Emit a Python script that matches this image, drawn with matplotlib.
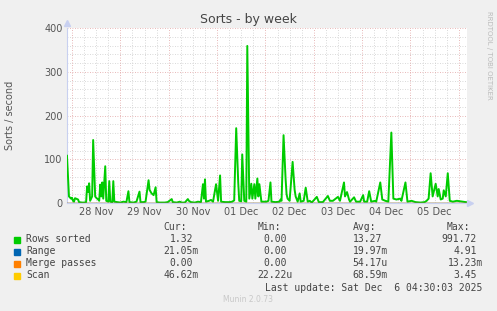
import matplotlib
matplotlib.use("Agg")
import matplotlib.pyplot as plt

# ============================
# Datos (horas desde 28 Nov 00:00)
# ============================
hours = [-2.5, -2.0, -1.5, -0.5, 0.0, 0.5, 1.0, 1.5, 2.0, 3.0, 3.5, 5.0, 6.0, 7.0,
         7.5, 8.0, 8.5, 9.0, 10.0, 10.5, 11.5, 12.0, 13.0, 13.5, 14.0, 14.5, 15.0,
         15.5, 16.5, 17.0, 18.0, 18.5, 19.0, 20.0, 20.5, 21.0, 22.5, 24.0, 25.5,
         27.0, 28.0, 28.5, 30.5, 32.0, 33.5, 34.0, 35.5, 36.5, 38.0, 38.5, 39.5,
         40.5, 41.5, 42.0, 43.5, 46.0, 47.5, 49.5, 50.0, 52.0, 53.5, 54.5, 56.0,
         57.5, 58.0, 59.0, 61.0, 62.5, 64.0, 65.0, 65.5, 66.0, 66.5, 68.0, 69.0,
         70.0, 71.5, 72.5, 73.5, 74.0, 76.0, 78.0, 79.5, 80.5, 81.5, 82.5, 83.0,
         84.0, 84.5, 85.5, 86.5, 87.0, 88.0, 89.0, 89.5, 90.5, 91.0, 92.0, 92.5,
         93.0, 94.0, 95.5, 96.5, 97.5, 98.5, 99.0, 101.0, 103.0, 103.5, 104.0,
         105.0, 106.0, 106.5, 107.0, 108.0, 109.5, 110.5, 111.0, 112.0, 113.0,
         113.5, 115.0, 116.0, 117.0, 118.0, 119.0, 121.5, 122.5, 124.5, 127.0,
         128.0, 129.5, 132.0, 133.0, 135.0, 135.5, 136.5, 137.5, 138.0, 140.0,
         141.0, 143.0, 144.5, 145.0, 146.5, 147.5, 148.5, 150.5, 151.0, 153.0,
         154.0, 155.5, 157.0, 158.5, 159.5, 161.0, 163.0, 163.5, 165.5, 166.5,
         168.5, 170.5, 173.0, 175.0, 176.0, 177.0, 178.0, 179.0, 180.5, 181.5,
         182.0, 183.0, 184.0, 184.5, 185.5, 186.5, 187.5, 189.0, 191.0, 192.5,
         194.0, 195.5]
rows_sorted = [108, 60, 15, 10, 12, 5, 3, 11, 10, 8, 2, 1, 1, 2,
               38, 25, 45, 5, 15, 144, 15, 12, 8, 5, 42, 15, 47,
               10, 84, 5, 3, 50, 3, 2, 50, 3, 2, 1, 3,
               2, 27, 2, 1, 3, 26, 2, 2, 3, 52, 30, 22,
               18, 36, 2, 1, 1, 2, 9, 2, 1, 3, 1, 1,
               9, 5, 2, 1, 3, 2, 43, 10, 54, 3, 5, 7,
               3, 43, 5, 63, 3, 2, 2, 3, 6, 171, 47, 5,
               4, 111, 5, 3, 359, 10, 44, 10, 43, 10, 56, 15,
               43, 3, 3, 3, 5, 47, 3, 2, 3, 8, 5,
               155, 56, 20, 10, 5, 94, 30, 15, 3, 22,
               3, 5, 35, 3, 5, 1, 14, 2, 2, 16,
               5, 5, 14, 5, 47, 15, 25, 8, 3, 13,
               3, 3, 18, 3, 3, 27, 3, 5, 3, 47,
               8, 5, 3, 161, 10, 8, 10, 5, 47, 3,
               5, 2, 1, 2, 5, 10, 68, 15, 44, 15,
               32, 8, 10, 29, 15, 68, 5, 3, 5, 4,
               3, 2]

# series casi nulas (en unidades/s)
flat_hours = [-2.5, 195.5]
range_vals = [0.02, 0.02]
merge_vals = [0.0, 0.0]
scan_vals = [0.05, 0.05]

day_labels = ["28 Nov", "29 Nov", "30 Nov", "01 Dec", "02 Dec", "03 Dec", "04 Dec", "05 Dec"]

legend_names = ["Rows sorted", "Range", "Merge passes", "Scan"]
legend_colors = ["#00CC00", "#0066B3", "#FF8000", "#FFCC00"]
cur_vals = ["1.32", "21.05m", "0.00", "46.62m"]
min_vals = ["0.00", "0.00", "0.00", "22.22u"]
avg_vals = ["13.27", "19.97m", "54.17u", "68.59m"]
max_vals = ["991.72", "4.91", "13.23m", "3.45"]

# ============================
# Figura
# ============================
W, H = 497, 311
fig = plt.figure(figsize=(W / 100, H / 100), dpi=100, facecolor="#F0F0F0")
ax = fig.add_axes([66.7 / W, 1 - 203 / H, 400 / W, 175 / H], facecolor="white")

ax.plot(hours, rows_sorted, color="#00CC00", lw=1.4, zorder=3)
ax.plot(flat_hours, range_vals, color="#0066B3", lw=1.0, zorder=4)
ax.plot(flat_hours, merge_vals, color="#FF8000", lw=1.0, zorder=4)
ax.plot(flat_hours, scan_vals, color="#FFCC00", lw=0.8, zorder=4, alpha=0.6)

ax.set_xlim(-2.63, 195.9)
ax.set_ylim(0, 400)

major_x = [24 * i for i in range(9)]
minor_x = [6 * i for i in range(33) if i % 4 != 0]
ax.set_xticks([12 + 24 * i for i in range(8)])
ax.set_xticklabels(day_labels)
ax.set_yticks([0, 100, 200, 300, 400])
ax.tick_params(length=0, labelsize=7, colors="#555555", pad=3)

for x in minor_x:
    ax.axvline(x, color="#CCCCCC", lw=0.6, ls=(0, (1, 2)), zorder=1)
for y in range(20, 400, 20):
    if y % 100:
        ax.axhline(y, color="#CCCCCC", lw=0.6, ls=(0, (1, 2)), zorder=1)
for x in major_x:
    ax.axvline(x, color="#E0A0A0", lw=0.6, ls=(0, (1, 2)), zorder=2)
for y in [100, 200, 300, 400]:
    ax.axhline(y, color="#E0A0A0", lw=0.6, ls=(0, (1, 2)), zorder=2)

for s in ["top", "right"]:
    ax.spines[s].set_visible(False)
for s in ["left", "bottom"]:
    ax.spines[s].set_color("#C8D0F0")
    ax.spines[s].set_linewidth(0.8)
ax.plot([0], [1.03], marker="^", color="#C8D0F0", ms=4, transform=ax.transAxes, clip_on=False)
ax.plot([1.008], [0], marker=">", color="#C8D0F0", ms=4, transform=ax.transAxes, clip_on=False)

fig.text(248 / W, 1 - 19 / H, "Sorts - by week", ha="center", va="center", fontsize=9, color="#444444")
fig.text(10 / W, 1 - 115 / H, "Sorts / second", rotation=90, ha="center", va="center",
         fontsize=7, color="#555555")
fig.text(489 / W, 1 - 55 / H, "RRDTOOL / TOBI OETIKER", rotation=270, ha="center", va="center",
         fontsize=5, color="#BBBBBB")

# ============================
# Leyenda
# ============================
mono = "DejaVu Sans Mono"
hdr_y = 227.5
fs = 7
char_w = fs * 100 / 72 * 0.602
for txt, x in zip(["Cur:", "Min:", "Avg:", "Max:"], [163, 258, 353, 447]):
    fig.text(x / W, 1 - hdr_y / H, txt, ha="left", va="center", family=mono, fontsize=fs, color="#444444")

def val_text(x_right, y, s):
    # el sufijo (m, u) queda a la derecha de la columna
    if s[-1].isalpha():
        x_right = x_right + char_w
    fig.text(x_right / W, 1 - y / H, s, ha="right", va="center", family=mono, fontsize=fs, color="#444444")

row_y = [239.5, 251.5, 263.5, 275.5]
for i, name in enumerate(legend_names):
    y = row_y[i]
    fig.patches.append(plt.Rectangle((14 / W, 1 - (y + 3) / H), 6 / W, 6 / H,
                                     transform=fig.transFigure, color=legend_colors[i]))
    fig.text(26 / W, 1 - y / H, name, ha="left", va="center", family=mono, fontsize=fs, color="#444444")
    val_text(193, y, cur_vals[i])
    val_text(287, y, min_vals[i])
    val_text(382, y, avg_vals[i])
    val_text(477, y, max_vals[i])

fig.text(482 / W, 1 - 288 / H, "Last update: Sat Dec  6 04:30:03 2025", ha="right", va="center",
         family=mono, fontsize=fs, color="#444444")
fig.text(248 / W, 1 - 300 / H, "Munin 2.0.73", ha="center", va="center", fontsize=5.5, color="#C8C8C8")

fig.savefig("out.png", dpi=100, facecolor=fig.get_facecolor())
